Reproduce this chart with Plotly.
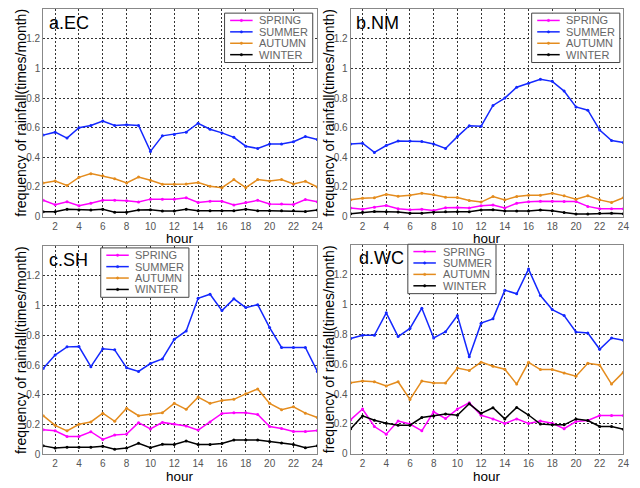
import plotly.graph_objects as go

# ---------------- data ----------------
hours = list(range(1, 25))
season_names = ["SPRING", "SUMMER", "AUTUMN", "WINTER"]
panel_labels = ["a.EC", "b.NM", "c.SH", "d.WC"]
x_ticks = list(range(2, 25, 2))
y_ticks = [0, 0.2, 0.4, 0.6, 0.8, 1.0, 1.2]
y_tick_text = ["0", "0.2", "0.4", "0.6", "0.8", "1", "1.2"]

spring_ec = [0.11, 0.08, 0.10, 0.073, 0.09, 0.11, 0.11, 0.107, 0.098, 0.118, 0.118, 0.118,
             0.127, 0.096, 0.104, 0.104, 0.078, 0.096, 0.11, 0.085, 0.085, 0.082, 0.115, 0.10]
summer_ec = [0.55, 0.57, 0.53, 0.60, 0.615, 0.645, 0.615, 0.62, 0.615, 0.44, 0.545, 0.555,
             0.57, 0.63, 0.59, 0.565, 0.535, 0.475, 0.46, 0.49, 0.49, 0.505, 0.54, 0.52]
autumn_ec = [0.227, 0.24, 0.21, 0.265, 0.29, 0.275, 0.255, 0.227, 0.267, 0.245, 0.218, 0.218,
             0.22, 0.23, 0.205, 0.195, 0.25, 0.195, 0.25, 0.24, 0.25, 0.22, 0.238, 0.20]
winter_ec = [0.033, 0.033, 0.05, 0.045, 0.045, 0.05, 0.03, 0.03, 0.045, 0.047, 0.038, 0.038,
             0.05, 0.04, 0.04, 0.04, 0.04, 0.05, 0.04, 0.04, 0.04, 0.04, 0.035, 0.045]

spring_nm = [0.058, 0.05, 0.064, 0.075, 0.053, 0.047, 0.049, 0.042, 0.06, 0.062, 0.058, 0.073,
             0.078, 0.058, 0.09, 0.10, 0.104, 0.104, 0.102, 0.102, 0.069, 0.053, 0.053, 0.053]
summer_nm = [0.49, 0.495, 0.433, 0.48, 0.51, 0.51, 0.507, 0.49, 0.46, 0.54, 0.613, 0.61,
             0.75, 0.80, 0.873, 0.90, 0.927, 0.913, 0.847, 0.74, 0.718, 0.584, 0.513, 0.50]
autumn_nm = [0.113, 0.124, 0.127, 0.15, 0.138, 0.144, 0.158, 0.147, 0.13, 0.129, 0.109, 0.098,
             0.135, 0.113, 0.135, 0.144, 0.144, 0.158, 0.14, 0.118, 0.14, 0.113, 0.096, 0.127]
winter_nm = [0.02, 0.029, 0.035, 0.033, 0.031, 0.022, 0.022, 0.029, 0.033, 0.033, 0.033, 0.044,
             0.047, 0.038, 0.038, 0.038, 0.044, 0.04, 0.027, 0.018, 0.018, 0.022, 0.022, 0.02]

spring_sh = [0.165, 0.158, 0.12, 0.12, 0.152, 0.10, 0.13, 0.136, 0.213, 0.171, 0.215, 0.204,
             0.19, 0.163, 0.218, 0.275, 0.28, 0.28, 0.268, 0.187, 0.174, 0.154, 0.154, 0.16]
summer_sh = [0.578, 0.668, 0.723, 0.725, 0.59, 0.71, 0.703, 0.582, 0.558, 0.611, 0.642, 0.774,
             0.83, 1.05, 1.077, 0.967, 1.046, 0.987, 1.007, 0.853, 0.719, 0.719, 0.719, 0.558]
autumn_sh = [0.26, 0.195, 0.158, 0.202, 0.218, 0.277, 0.222, 0.31, 0.26, 0.268, 0.28, 0.343,
             0.303, 0.385, 0.343, 0.363, 0.37, 0.407, 0.44, 0.343, 0.30, 0.32, 0.277, 0.248]
winter_sh = [0.057, 0.042, 0.048, 0.048, 0.048, 0.055, 0.035, 0.042, 0.075, 0.044, 0.068, 0.066,
             0.09, 0.066, 0.066, 0.073, 0.097, 0.097, 0.097, 0.086, 0.077, 0.066, 0.044, 0.057]

spring_wc = [0.229, 0.30, 0.183, 0.132, 0.22, 0.20, 0.154, 0.282, 0.236, 0.30, 0.342, 0.258,
             0.234, 0.203, 0.234, 0.203, 0.22, 0.205, 0.168, 0.216, 0.223, 0.256, 0.256, 0.256]
summer_wc = [0.772, 0.794, 0.794, 0.944, 0.785, 0.84, 0.975, 0.776, 0.818, 0.926, 0.65, 0.875,
             0.904, 1.096, 1.072, 1.237, 1.06, 0.966, 0.926, 0.816, 0.809, 0.70, 0.776, 0.76]
autumn_wc = [0.476, 0.487, 0.483, 0.454, 0.483, 0.364, 0.487, 0.474, 0.474, 0.575, 0.558, 0.614,
             0.587, 0.567, 0.467, 0.613, 0.564, 0.564, 0.542, 0.52, 0.606, 0.595, 0.467, 0.547]
winter_wc = [0.168, 0.254, 0.225, 0.205, 0.192, 0.192, 0.243, 0.254, 0.267, 0.258, 0.335, 0.271,
             0.309, 0.234, 0.311, 0.26, 0.20, 0.194, 0.194, 0.234, 0.223, 0.183, 0.183, 0.165]

panel_series = [
    [spring_ec, summer_ec, autumn_ec, winter_ec],
    [spring_nm, summer_nm, autumn_nm, winter_nm],
    [spring_sh, summer_sh, autumn_sh, winter_sh],
    [spring_wc, summer_wc, autumn_wc, winter_wc],
]

# ---------------- styling / layout ----------------
W, H = 640, 488
colors = ["#ff00ff", "#1428ff", "#e48c1e", "#000000"]
FONT = "Liberation Sans, Arial, sans-serif"


def px(x):
    return x / W


def py(y):
    return 1 - y / H


# plot area boxes in pixels: (left, right, top, bottom)
boxes = [
    (43.6, 320.3, 9.3, 219.3),
    (354.0, 629.3, 9.3, 219.3),
    (43.6, 320.3, 249.3, 460.0),
    (354.0, 629.3, 247.8, 459.5),
]
# legend boxes (left, top) in pixels
legend_pos = [(226.7, 13.3), (536.7, 13.3), (101.7, 251.0), (411.7, 247.3)]
label_pos = [(47, 23), (357, 23), (47, 263), (360, 261)]
ytitle_x = [21, 332, 21, 332]

fig = go.Figure()
layout = dict(
    width=W, height=H,
    margin=dict(l=0, r=0, t=0, b=0),
    paper_bgcolor="white", plot_bgcolor="white",
    showlegend=False,
    font=dict(family=FONT, color="#555555", size=10),
)
annotations = []
shapes = []

for i, series in enumerate(panel_series):
    n = "" if i == 0 else str(i + 1)
    xa, ya = "x" + n, "y" + n
    l, r, t, b = boxes[i]
    for k, vals in enumerate(series):
        fig.add_trace(go.Scatter(
            x=hours, y=vals, mode="lines+markers", name=season_names[k],
            line=dict(color=colors[k], width=1.5),
            marker=dict(color=colors[k], size=3),
            xaxis=xa, yaxis=ya, showlegend=False,
        ))
    axis_common = dict(
        showgrid=True, gridcolor="#333333", gridwidth=1, griddash="2px,2px",
        showline=True, mirror=True, linecolor="#888888", linewidth=1,
        zeroline=False, ticks="",
        tickfont=dict(family=FONT, size=10, color="#555555"),
    )
    layout["xaxis" + n] = dict(
        domain=[px(l), px(r)], range=[1, 24], anchor=ya,
        tickvals=x_ticks, ticklabelstandoff=0, **axis_common)
    layout["yaxis" + n] = dict(
        domain=[py(b), py(t)], range=[0, 1.4], anchor=xa,
        tickvals=y_ticks, ticktext=y_tick_text, ticklabelstandoff=0, **axis_common)

    # panel label
    lx, ly = label_pos[i]
    annotations.append(dict(
        x=px(lx), y=py(ly), xref="paper", yref="paper", xanchor="left", yanchor="middle",
        text=panel_labels[i], showarrow=False,
        font=dict(family=FONT, size=18, color="#000000")))
    # axis titles
    annotations.append(dict(
        x=px((l + r) / 2), y=py(b + 22.5), xref="paper", yref="paper",
        xanchor="center", yanchor="middle", text="hour", showarrow=False,
        font=dict(family=FONT, size=13.5, color="#000000")))
    annotations.append(dict(
        x=px(ytitle_x[i]), y=py((t + b) / 2), xref="paper", yref="paper",
        xanchor="center", yanchor="middle", textangle=-90,
        text="frequency of rainfall(times/month)", showarrow=False,
        font=dict(family=FONT, size=14, color="#000000")))

    # legend box
    bx, by = legend_pos[i]
    shapes.append(dict(
        type="rect", xref="paper", yref="paper",
        x0=px(bx), x1=px(bx + 89), y0=py(by + 50), y1=py(by),
        line=dict(color="#444444", width=1), fillcolor="white", layer="above"))
    for k, name in enumerate(season_names):
        ry = by + 7.4 + k * 11.55
        shapes.append(dict(
            type="line", xref="paper", yref="paper",
            x0=px(bx + 5.6), x1=px(bx + 28.3), y0=py(ry), y1=py(ry),
            line=dict(color=colors[k], width=1.5), layer="above"))
        shapes.append(dict(
            type="circle", xref="paper", yref="paper",
            x0=px(bx + 15.8), x1=px(bx + 18.2), y0=py(ry + 1.2), y1=py(ry - 1.2),
            line=dict(color=colors[k], width=0.5), fillcolor=colors[k], layer="above"))
        annotations.append(dict(
            x=px(bx + 33), y=py(ry), xref="paper", yref="paper",
            xanchor="left", yanchor="middle", text=name, showarrow=False,
            font=dict(family=FONT, size=11, color="#666666")))

layout["annotations"] = annotations
layout["shapes"] = shapes
fig.update_layout(**layout)
fig.write_html(
    "out.html",
    config={"displayModeBar": False},
    post_script="document.body.style.margin='0';document.body.style.overflow='hidden';",
)
